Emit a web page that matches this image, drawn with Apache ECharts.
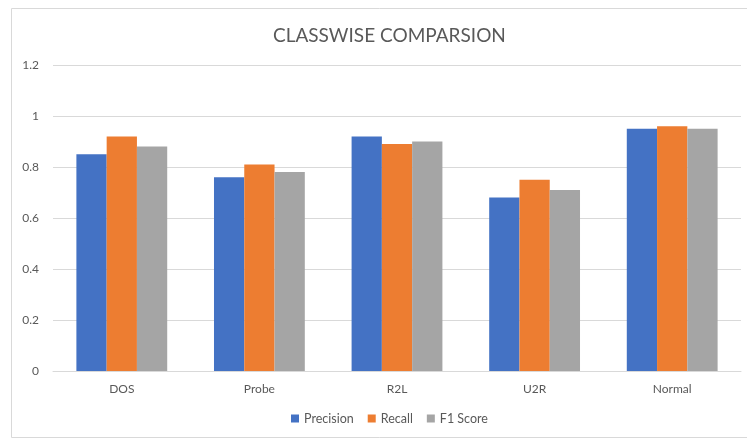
<!DOCTYPE html>
<html>
<head>
<meta charset="utf-8">
<script src="https://cdn.jsdelivr.net/npm/echarts@6/dist/echarts.min.js"></script>
<style>
  html, body { margin: 0; padding: 0; background: #fff; }
  #chart { width: 747px; height: 441px; }
</style>
</head>
<body>
<div id="chart"></div>
<script>
  // values
  const classes = ['DOS', 'Probe', 'R2L', 'U2R', 'Normal'];
  const precision = [0.85, 0.76, 0.92, 0.68, 0.95];
  const recall = [0.92, 0.81, 0.89, 0.75, 0.96];
  const f1Score = [0.88, 0.78, 0.90, 0.71, 0.95];

  const font = 'Lato, "Open Sans", sans-serif';
  const textColor = '#595959';

  const myChart = echarts.init(document.getElementById('chart'));

  const bar = (name, data, color) => ({
    name: name,
    type: 'bar',
    data: data,
    barGap: '0%',
    barCategoryGap: '34%',
    itemStyle: {color: color}
  });

  myChart.setOption({
    animation: false,
    textStyle: {fontFamily: font},
    graphic: [{
      type: 'rect',
      shape: {x: 11.5, y: 8.5, width: 760, height: 429},
      style: {fill: 'none', stroke: '#d9d9d9', lineWidth: 1},
      silent: true
    }],
    title: {
      text: 'CLASSWISE COMPARSION',
      left: 268,
      top: 21,
      textStyle: {color: textColor, fontSize: 19, fontWeight: 'normal', fontFamily: font}
    },
    legend: {
      bottom: 11,
      left: 286,
      itemWidth: 8,
      itemHeight: 8,
      itemGap: 14,
      icon: 'rect',
      textStyle: {color: textColor, fontSize: 12.5, fontFamily: font},
      data: ['Precision', 'Recall', 'F1 Score']
    },
    grid: {left: 53, right: 6, top: 65, bottom: 70},
    xAxis: {
      type: 'category',
      data: classes,
      axisTick: {show: false},
      axisLine: {lineStyle: {color: '#d9d9d9'}},
      axisLabel: {color: textColor, fontSize: 12, margin: 12}
    },
    yAxis: {
      type: 'value',
      min: 0,
      max: 1.2,
      interval: 0.2,
      axisLine: {show: false},
      axisTick: {show: false},
      splitLine: {lineStyle: {color: '#d9d9d9'}},
      axisLabel: {color: textColor, fontSize: 12, margin: 14}
    },
    series: [
      bar('Precision', precision, '#4472c4'),
      bar('Recall', recall, '#ed7d31'),
      bar('F1 Score', f1Score, '#a5a5a5')
    ]
  });
</script>
</body>
</html>
